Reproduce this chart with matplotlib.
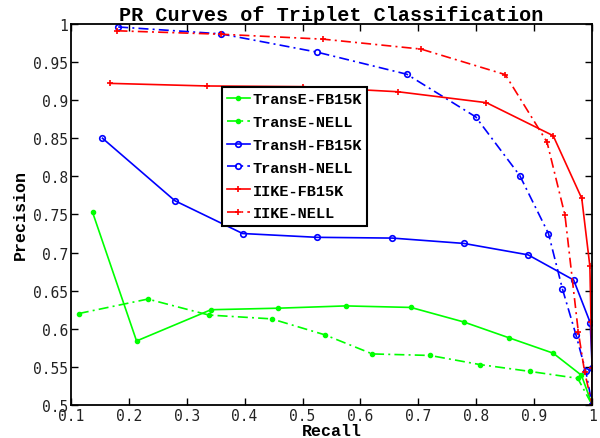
import matplotlib
matplotlib.use("Agg")
import matplotlib.pyplot as plt

transe_fb_r = [0.1375, 0.2135, 0.342, 0.4576, 0.5745, 0.687, 0.778, 0.857, 0.9326, 0.9815, 1.0]
transe_fb_p = [0.753, 0.584, 0.625, 0.627, 0.630, 0.628, 0.609, 0.588, 0.568, 0.539, 0.500]

transe_nell_r = [0.1138, 0.233, 0.3384, 0.4467, 0.5388, 0.6205, 0.72, 0.8065, 0.893, 0.975, 1.0]
transe_nell_p = [0.620, 0.639, 0.618, 0.613, 0.592, 0.567, 0.565, 0.553, 0.544, 0.535, 0.500]

transh_fb_r = [0.1547, 0.2797, 0.3966, 0.525, 0.655, 0.7784, 0.8894, 0.968, 0.9966, 1.0, 1.0]
transh_fb_p = [0.850, 0.768, 0.725, 0.720, 0.719, 0.712, 0.697, 0.664, 0.608, 0.549, 0.500]

transh_nell_r = [0.1818, 0.359, 0.525, 0.680, 0.799, 0.875, 0.9245, 0.9487, 0.972, 0.989, 1.0]
transh_nell_p = [0.996, 0.987, 0.963, 0.934, 0.878, 0.801, 0.725, 0.652, 0.592, 0.544, 0.500]

iike_fb_r = [0.168, 0.335, 0.5013, 0.665, 0.8174, 0.9326, 0.982, 0.996, 0.998, 1.0, 1.0]
iike_fb_p = [0.922, 0.9186, 0.9177, 0.911, 0.8967, 0.8534, 0.771, 0.682, 0.609, 0.549, 0.500]

iike_nell_r = [0.1806, 0.359, 0.536, 0.7046, 0.85, 0.922, 0.953, 0.976, 0.987, 1.0]
iike_nell_p = [0.991, 0.9865, 0.980, 0.967, 0.9335, 0.845, 0.749, 0.596, 0.543, 0.500]

labels = ["TransE-FB15K", "TransE-NELL", "TransH-FB15K", "TransH-NELL", "IIKE-FB15K", "IIKE-NELL"]

x_ticks = [0.1, 0.2, 0.3, 0.4, 0.5, 0.6, 0.7, 0.8, 0.9, 1]
y_ticks = [0.5, 0.55, 0.6, 0.65, 0.7, 0.75, 0.8, 0.85, 0.9, 0.95, 1]

fig = plt.figure(figsize=(6.0, 4.39), dpi=100)
ax = fig.add_axes([0.118, 0.0752, 0.869, 0.868])

dashdot = (0, (6, 2.5, 1.2, 2.5))
ax.plot(transe_fb_r, transe_fb_p, color=(0, 1, 0), ls='-', lw=1.2, marker='.', ms=6, label=labels[0])
ax.plot(transe_nell_r, transe_nell_p, color=(0, 1, 0), ls=dashdot, lw=1.2, marker='.', ms=6, label=labels[1])
ax.plot(transh_fb_r, transh_fb_p, color=(0, 0, 1), ls='-', lw=1.2, marker='o', ms=4, mfc='none', mew=1.2, label=labels[2])
ax.plot(transh_nell_r, transh_nell_p, color=(0, 0, 1), ls=dashdot, lw=1.2, marker='o', ms=4, mfc='none', mew=1.2, label=labels[3])
ax.plot(iike_fb_r, iike_fb_p, color=(1, 0, 0), ls='-', lw=1.2, marker='+', ms=5, mew=1.2, label=labels[4])
ax.plot(iike_nell_r, iike_nell_p, color=(1, 0, 0), ls=dashdot, lw=1.2, marker='+', ms=5, mew=1.2, label=labels[5])

ax.set_xlim(0.1, 1.0)
ax.set_ylim(0.5, 1.0)
ax.set_xticks(x_ticks)
ax.set_yticks(y_ticks)
ax.set_xticklabels([("%g" % v) for v in x_ticks], family="DejaVu Sans Mono", fontsize=10.5, color="#222222")
ax.set_yticklabels([("%g" % v) for v in y_ticks], family="DejaVu Sans Mono", fontsize=10.5, color="#222222")
ax.tick_params(direction='in', top=True, right=True, length=5, width=1, pad=2)
for s in ax.spines.values():
    s.set_linewidth(1.3)

ax.set_title("PR Curves of Triplet Classification", family="Liberation Mono", fontweight="bold", fontsize=14.5, pad=3)
ax.set_xlabel("Recall", family="Liberation Mono", fontweight="bold", fontsize=12, labelpad=0)
ax.set_ylabel("Precision", family="Liberation Mono", fontweight="bold", fontsize=12, labelpad=4)

leg = ax.legend(loc='upper left', bbox_to_anchor=(0.29, 0.835), borderaxespad=0,
                prop={'family': 'Liberation Mono', 'weight': 'bold', 'size': 11.0},
                handlelength=1.45, handletextpad=0.2, labelspacing=0.58, borderpad=0.35,
                fancybox=False, framealpha=1)
leg.get_frame().set_edgecolor('black')
leg.get_frame().set_linewidth(1.5)

fig.savefig("out.png", dpi=100)
